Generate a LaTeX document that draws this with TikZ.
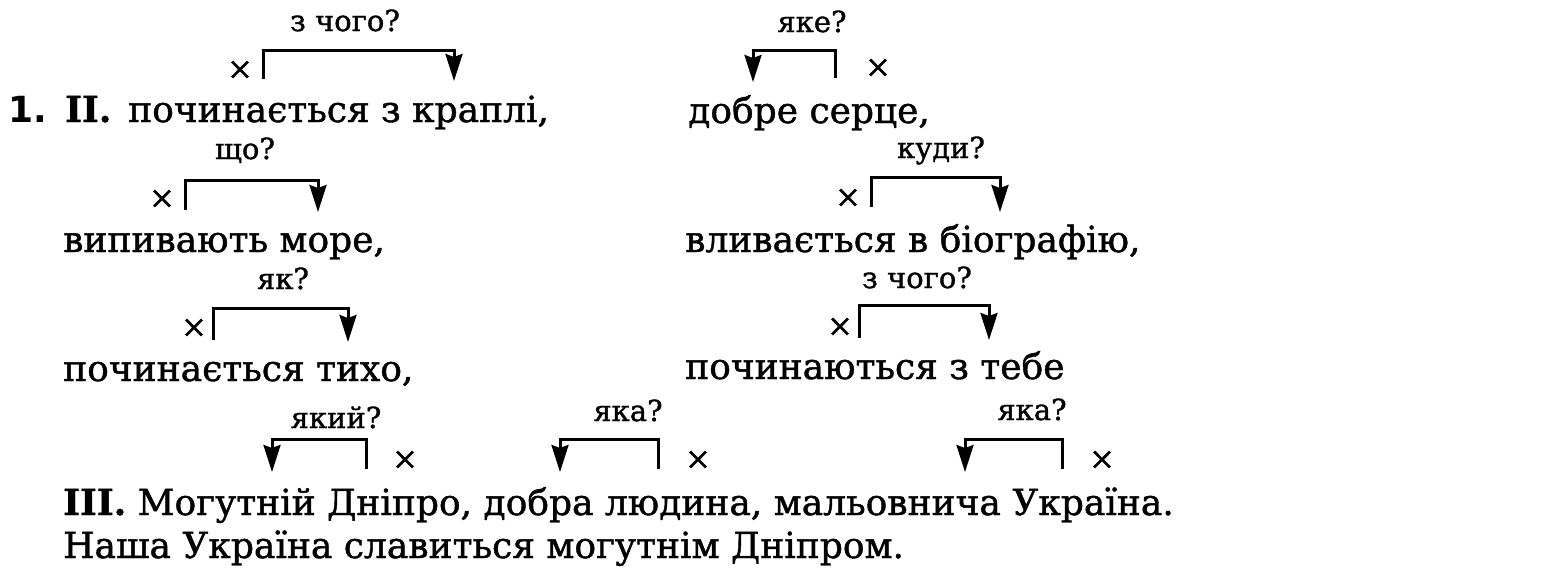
\documentclass[tikz,border=0pt]{standalone}
\usepackage{fontspec}
\setmainfont[FakeBold=1.2]{DejaVu Serif}
\newfontfamily\numfont{DejaVu Sans}
\usetikzlibrary{arrows.meta}
\begin{document}
\begin{tikzpicture}[x=1pt,y=-1pt,
  line/.style={anchor=base west, inner sep=0pt, font=\fontsize{36}{40}\selectfont},
  ask/.style={anchor=base, inner sep=0pt, font=\fontsize{29}{30}\selectfont},
  cross/.style={inner sep=0pt, font=\fontsize{31}{31}\selectfont},
  link/.style={line width=3pt, line join=miter},
  tip/.style={-{Stealth[length=27pt,width=17pt,inset=3pt]}}
]
\useasboundingbox[fill=white] (0,0) rectangle (1547,571);

% ---- text lines ----
\node[line] (n1) at (8,122) {\numfont\bfseries 1.};
\node[line] (r1) at (65,122) {\bfseries II.};
\node[line] (t1) at (128,122) {починається з краплі,};
\node[line] (t2) at (688,123) {добре серце,};
\node[line] (t3) at (63,252) {випивають море,};
\node[line] (t4) at (685,252) {вливається в біографію,};
\node[line] (t5) at (63,381) {починається тихо,};
\node[line] (t6) at (685,379) {починаються з тебе};
\node[line] (t7) at (63,515) {\bfseries III.\mdseries\ Могутній Дніпро, добра людина, мальовнича Україна.};
\node[line] (t8) at (63,558) {Наша Україна славиться могутнім Дніпром.};

% ---- question labels ----
\node[ask] (q1) at (345,31) {з чого?};
\node[ask] (q2) at (812,32) {яке?};
\node[ask] (q3) at (245,159) {що?};
\node[ask] (q4) at (941,158) {куди?};
\node[ask] (q5) at (283,289) {як?};
\node[ask] (q6) at (917,288) {з чого?};
\node[ask] (q7) at (336,428) {який?};
\node[ask] (q8) at (628,421) {яка?};
\node[ask] (q9) at (1032,420) {яка?};

% ---- crosses ----
\node[cross] (x1) at (240,70) {×};
\node[cross] (x2) at (878,68) {×};
\node[cross] (x3) at (162,199) {×};
\node[cross] (x4) at (848,198) {×};
\node[cross] (x5) at (194,328) {×};
\node[cross] (x6) at (840,327) {×};
\node[cross] (x7) at (405,460) {×};
\node[cross] (x8) at (698,460) {×};
\node[cross] (x9) at (1102,460) {×};

% ---- bracket end points ----
\coordinate (a1) at (263,79);  \coordinate (b1) at (454,81);
\coordinate (a2) at (835,78);  \coordinate (b2) at (753,82);
\coordinate (a3) at (185,210); \coordinate (b3) at (318,212);
\coordinate (a4) at (871,207); \coordinate (b4) at (1000,212);
\coordinate (a5) at (213,340); \coordinate (b5) at (348,342);
\coordinate (a6) at (859,338); \coordinate (b6) at (989,340);
\coordinate (a7) at (366,469); \coordinate (b7) at (272,472);
\coordinate (a8) at (658,469); \coordinate (b8) at (560,472);
\coordinate (a9) at (1062,469); \coordinate (b9) at (965,472);

% ---- brackets ----
\draw[link,tip] (a1) -- ++(0,-29) -| (b1);
\draw[link,tip] (a2) -- ++(0,-28) -| (b2);
\draw[link,tip] (a3) -- ++(0,-30) -| (b3);
\draw[link,tip] (a4) -- ++(0,-30) -| (b4);
\draw[link,tip] (a5) -- ++(0,-32) -| (b5);
\draw[link,tip] (a6) -- ++(0,-33) -| (b6);
\draw[link,tip] (a7) -- ++(0,-30) -| (b7);
\draw[link,tip] (a8) -- ++(0,-30) -| (b8);
\draw[link,tip] (a9) -- ++(0,-30) -| (b9);
\end{tikzpicture}
\end{document}
